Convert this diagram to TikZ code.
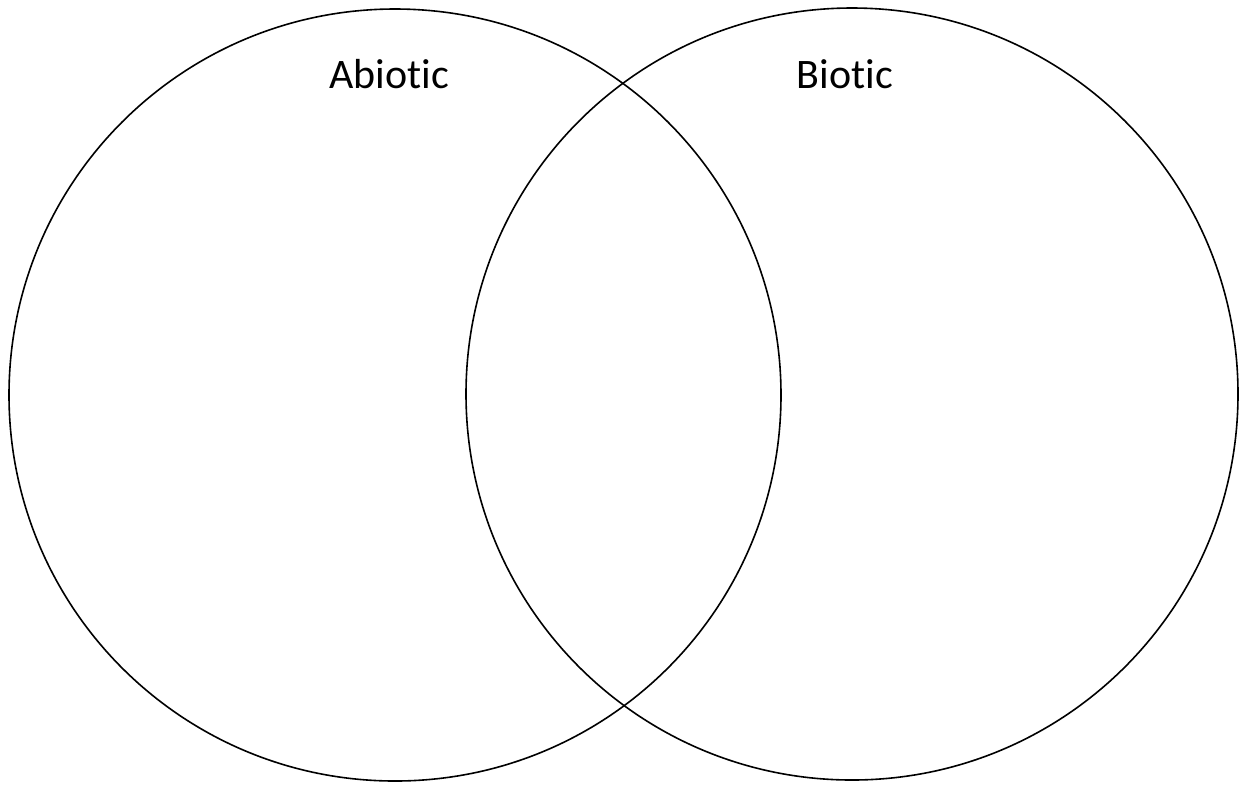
\documentclass[tikz,border=0pt]{standalone}
\usepackage{fontspec}
\setmainfont[Ligatures={NoCommon}]{Carlito}

\begin{document}
\begin{tikzpicture}[x=0.5pt, y=-0.5pt,
	venn/.style={shape=circle, draw, line width=0.8pt, minimum size=386pt, inner sep=0pt, outer sep=0pt},
	setlabel/.style={anchor=base, font=\fontsize{21}{25}\selectfont}]
	\useasboundingbox (0, 0) rectangle (1242, 784);
	% Circles and labels:
	\node[venn](abiotic) at (395, 395){};
	\node[venn](biotic) at (852, 394){};
	\node[setlabel](abioticlabel) at (389, 88){Abiotic};
	\node[setlabel](bioticlabel) at (845, 88){Biotic};
\end{tikzpicture}
\end{document}
